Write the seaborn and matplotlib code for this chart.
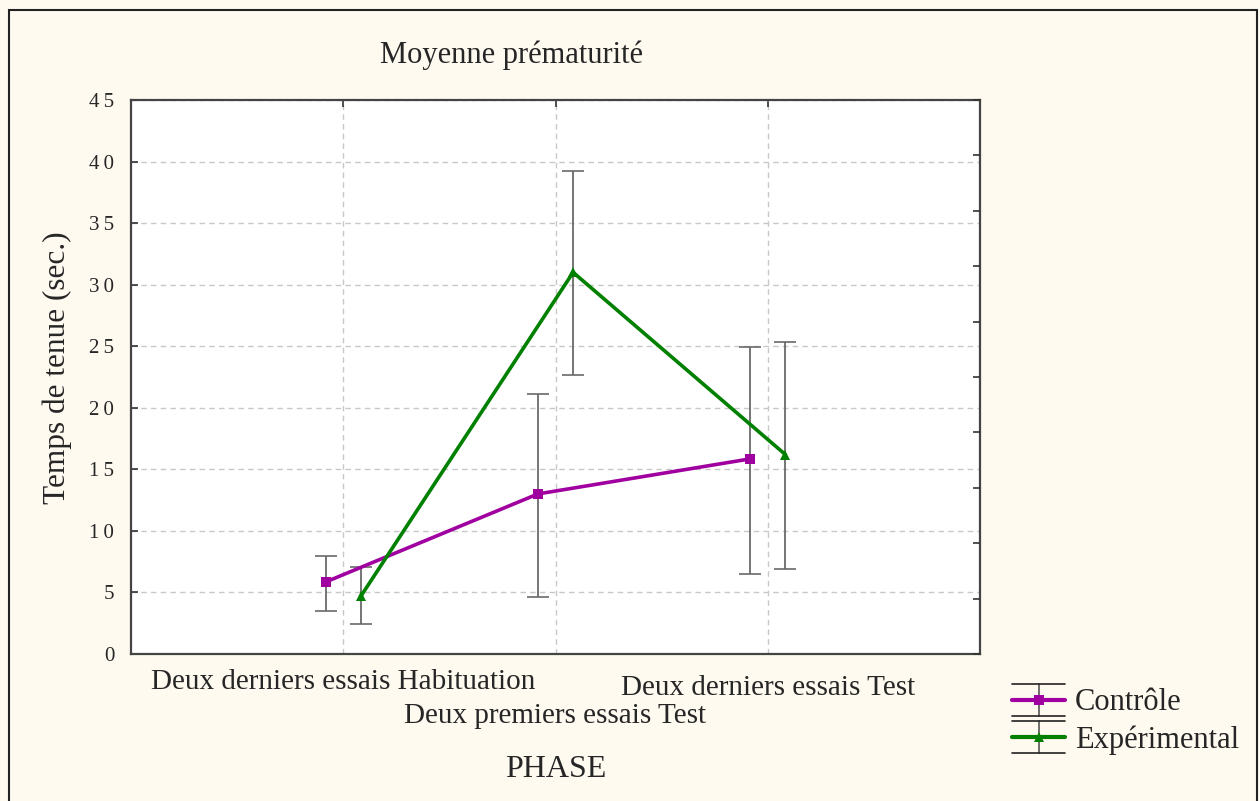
import numpy as np
import pandas as pd
import matplotlib
matplotlib.use("Agg")
import matplotlib.pyplot as plt
import seaborn as sns
from matplotlib.patches import Rectangle
from matplotlib.lines import Line2D
from matplotlib.legend_handler import HandlerBase

# data
phases = ["Deux derniers essais Habituation", "Deux premiers essais Test", "Deux derniers essais Test"]
groups = ["Contrôle", "Expérimental"]
ctrl_mean = [5.85, 13.0, 15.85]
ctrl_low = [3.5, 4.6, 6.5]
ctrl_high = [8.0, 21.15, 24.95]
exp_mean = [4.7, 31.0, 16.2]
exp_low = [2.45, 22.7, 6.9]
exp_high = [7.05, 39.2, 25.35]

colors = {"Contrôle": "#a000a0", "Expérimental": "#008000"}
markers = {"Contrôle": "s", "Expérimental": "^"}
offsets = {"Contrôle": -0.083, "Expérimental": 0.083}


class ErrorbarKey(HandlerBase):
    """Legend key: coloured line + marker, with a vertical bar and wide caps."""
    def create_artists(self, legend, orig_handle, xdescent, ydescent,
                       width, height, fontsize, trans):
        color, marker = orig_handle
        x0, x1 = -xdescent, width - xdescent
        xm = (x0 + x1) / 2
        yc = height / 2 - ydescent
        e = 11.5
        arts = [
            Line2D([xm, xm], [yc - e, yc + e], color="#555555", lw=1.2),
            Line2D([x0, x1], [yc + e, yc + e], color="#222222", lw=1.2),
            Line2D([x0, x1], [yc - e, yc - e], color="#222222", lw=1.2),
            Line2D([x0, x1], [yc, yc], color=color, lw=3),
            Line2D([xm], [yc], color=color, marker=marker, ms=7, mew=0, lw=0),
        ]
        for a in arts:
            a.set_transform(trans)
        return arts


sns.set_style("white")
plt.rcParams["font.family"] = ["Liberation Serif", "DejaVu Serif"]

rows = []
for g, means, lows, highs in [("Contrôle", ctrl_mean, ctrl_low, ctrl_high),
                              ("Expérimental", exp_mean, exp_low, exp_high)]:
    for i, p in enumerate(phases):
        rows.append({"PHASE": p, "pos": i + 1 + offsets[g], "group": g,
                     "mean": means[i], "low": lows[i], "high": highs[i]})
df = pd.DataFrame(rows)

fig = plt.figure(figsize=(12.6, 8.01), dpi=100, facecolor="#fffaf0")
ax = fig.add_axes([131 / 1260, 1 - 654 / 801, (980 - 131) / 1260, (654 - 100) / 801])
ax.set_facecolor("white")

# error bars first so lines sit on top
for g in groups:
    d = df[df["group"] == g]
    yerr = np.vstack([d["mean"] - d["low"], d["high"] - d["mean"]])
    eb = ax.errorbar(d["pos"], d["mean"], yerr=yerr, fmt="none", ecolor="#6a6a6a",
                     elinewidth=1.3, capsize=8, capthick=1.2, zorder=2)
    for cap in eb[1]:
        cap.set_color("#222222")

sns.lineplot(data=df, x="pos", y="mean", hue="group", style="group",
             palette=colors, markers=markers, dashes=False, linewidth=2.6,
             markersize=7, markeredgewidth=0, legend=False, ax=ax, zorder=3,
             sort=True)

ax.set_xlim(0, 4)
ax.set_ylim(0, 45)
ax.set_yticks(np.arange(0, 46, 5))
ax.set_yticklabels(["\u2009".join(str(v)) for v in range(0, 46, 5)], fontsize=15)
ax.set_xticks([1, 2, 3])
ax.set_xticklabels(phases, fontsize=21)
ax.grid(True, linestyle=(0, (4, 3)), color="#c8c8c8", linewidth=1)
ax.tick_params(axis="both", direction="in", length=5, width=1.2, color="#333333",
               top=True, right=False)
ax.tick_params(axis="y", pad=12)
pads = [11, 35, 15]
for tk, p in zip(ax.xaxis.get_major_ticks(), pads):
    tk.set_pad(p)

for s in ax.spines.values():
    s.set_color("#444444")
    s.set_linewidth(1.6)

# right axis with its own unlabeled ticks
ax2 = ax.twinx()
ax2.set_ylim(0, 45)
ax2.set_yticks(np.arange(0, 46, 4.5))
ax2.set_yticklabels([])
ax2.tick_params(axis="y", direction="in", length=5, width=1.2, color="#333333")
for s in ax2.spines.values():
    s.set_visible(False)

ax.set_xlabel("PHASE", fontsize=23, labelpad=19)
ax.set_ylabel("Temps de tenue (sec.)", fontsize=22.5)
ax.yaxis.set_label_coords(-0.07, 0.516)
fig.text(512 / 1260, 1 - 55 / 801, "Moyenne prématurité", fontsize=22,
         ha="center", va="center")

handles = [(colors[g], markers[g]) for g in groups]
fig.legend(handles, groups, handler_map={tuple: ErrorbarKey()},
           loc="center left", bbox_to_anchor=(1012 / 1260, 1 - 721.5 / 801),
           frameon=False, fontsize=22, handlelength=1.75, handletextpad=0.3,
           labelspacing=0.25, borderaxespad=0, borderpad=0)

fig.add_artist(Rectangle((9 / 1260, -0.01), (1257 - 9) / 1260, 1.01 - 10 / 801,
                         transform=fig.transFigure, fill=False, edgecolor="#222222",
                         linewidth=1.5))

fig.savefig("out.png", dpi=100, facecolor=fig.get_facecolor())
